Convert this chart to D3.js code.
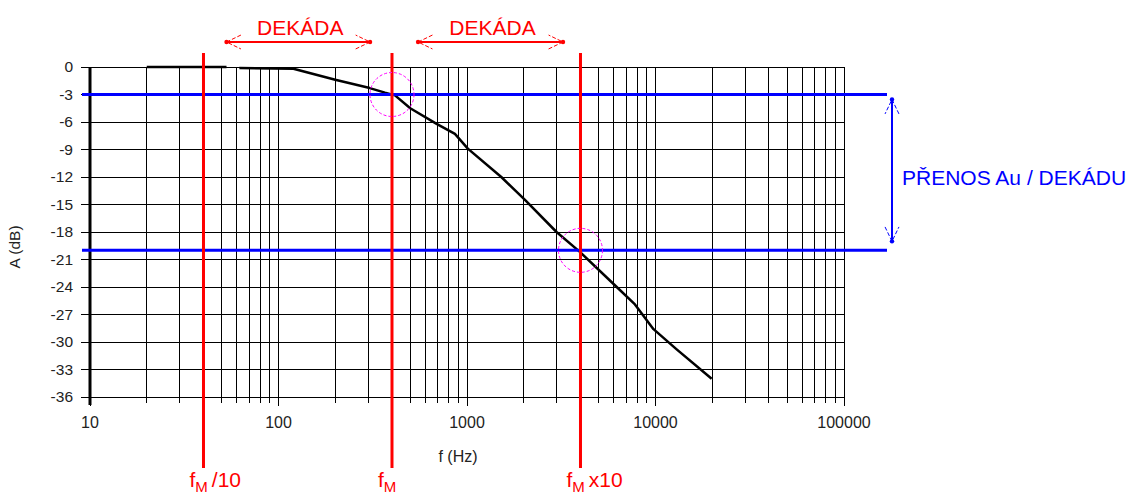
<!DOCTYPE html>
<html>
<head>
<meta charset="utf-8">
<script src="https://cdn.jsdelivr.net/npm/d3@7"></script>
<style>
  body { margin: 0; background: #fff; }
  svg { display: block; font-family: "Liberation Sans", Arial, sans-serif; }
</style>
</head>
<body>
<svg id="chart" width="1130" height="497"></svg>
<script>
// measured response (frequency in Hz, gain in dB); null = gap in the trace
var freq = [20, 53, 57, 62, 120, 200, 305, 367, 415, 500, 690, 863, 1010, 1520, 2030, 2985, 3984, 6227, 7780, 9760, 12950, 19860]
var gain = [0, 0, null, -0.1, -0.2, -1.4, -2.3, -2.8, -3.1, -4.5, -6.2, -7.3, -8.9, -12, -14.5, -18, -20.2, -24, -25.9, -28.6, -30.8, -34]

var yTicks = [0, -3, -6, -9, -12, -15, -18, -21, -24, -27, -30, -33, -36]
var xDecades = [10, 100, 1000, 10000, 100000]
var xLabels = ["10", "100", "1000", "10000", "100000"]

// annotations
var markFreq = [40, 400, 4000]
var markLabel = ["/10", "", "x10"]
var levels = [-3, -20]
var circleFreq = [400, 4000]
var circleDb = [-3, -20]
var decadeFrom = [53, 550]
var decadeTo = [306, 3230]

var svg = d3.select("#chart")
var x = d3.scaleLog().domain([10, 100000]).range([90, 844])
var y = d3.scaleLinear().domain([-36, 0]).range([397, 67])

var grid = svg.append("g").attr("shape-rendering", "crispEdges")

// vertical grid lines + ticks below axis
var vlines = []
xDecades.forEach(function(d, i) {
  if (i == xDecades.length - 1) { vlines.push({f: d, major: true}); return }
  for (var k = 1; k < 10; k++) vlines.push({f: d * k, major: k == 1})
})
grid.selectAll("line.v").data(vlines).enter().append("line").attr("class", "v")
  .attr("x1", function(d) { return x(d.f) }).attr("x2", function(d) { return x(d.f) })
  .attr("y1", y(0)).attr("y2", function(d) { return d.major ? y(-36) + 9 : y(-36) + 6 })
  .attr("stroke", "#000").attr("stroke-width", 1)

// horizontal grid lines + ticks on the left
grid.selectAll("line.h").data(yTicks).enter().append("line").attr("class", "h")
  .attr("x1", x(10) - 9).attr("x2", x(100000))
  .attr("y1", function(d) { return y(d) }).attr("y2", function(d) { return y(d) })
  .attr("stroke", "#000").attr("stroke-width", 1)

// thick left axis
svg.append("line").attr("x1", x(10)).attr("x2", x(10)).attr("y1", y(0)).attr("y2", y(-36) + 8)
  .attr("stroke", "#000").attr("stroke-width", 3)

svg.selectAll("text.yt").data(yTicks).enter().append("text").attr("class", "yt")
  .attr("x", 73).attr("y", function(d) { return y(d) + 5 })
  .attr("text-anchor", "end").attr("font-size", 15.5).attr("fill", "#222")
  .text(function(d) { return d })

svg.selectAll("text.xt").data(xDecades).enter().append("text").attr("class", "xt")
  .attr("x", function(d) { return x(d) }).attr("y", 428)
  .attr("text-anchor", "middle").attr("font-size", 16).attr("fill", "#222")
  .text(function(d, i) { return xLabels[i] })

svg.append("text").attr("x", 458).attr("y", 462).attr("text-anchor", "middle")
  .attr("font-size", 16).attr("fill", "#222").text("f (Hz)")
svg.append("text").attr("transform", "translate(20,247) rotate(-90)").attr("text-anchor", "middle")
  .attr("font-size", 15.5).attr("fill", "#222").text("A (dB)")

// response curve
var pts = freq.map(function(f, i) { return [f, gain[i]] })
var line = d3.line().defined(function(d) { return d[1] !== null })
  .x(function(d) { return x(d[0]) }).y(function(d) { return y(d[1]) })
svg.append("path").datum(pts).attr("d", line).attr("fill", "none")
  .attr("stroke", "#000").attr("stroke-width", 2.5).attr("stroke-linejoin", "round")

// blue levels
svg.selectAll("line.lev").data(levels).enter().append("line").attr("class", "lev")
  .attr("x1", x(10) - 8).attr("x2", x(100000) + 43)
  .attr("y1", function(d) { return y(d) }).attr("y2", function(d) { return y(d) })
  .attr("stroke", "#0000ff").attr("stroke-width", 3)

// red marker lines
svg.selectAll("line.mk").data(markFreq).enter().append("line").attr("class", "mk")
  .attr("x1", function(d) { return x(d) }).attr("x2", function(d) { return x(d) })
  .attr("y1", y(0) - 14).attr("y2", 468)
  .attr("stroke", "#ff0000").attr("stroke-width", 3)

// magenta circles
svg.selectAll("circle.c").data(circleFreq).enter().append("circle").attr("class", "c")
  .attr("cx", function(d) { return x(d) }).attr("cy", function(d, i) { return y(circleDb[i]) })
  .attr("r", 22).attr("fill", "none").attr("stroke", "#ff00ff").attr("stroke-width", 1)
  .attr("stroke-dasharray", "3,2")

// fM labels
var lab = svg.selectAll("text.fm").data(markFreq).enter().append("text").attr("class", "fm")
  .attr("x", function(d) { return x(d) - 14 }).attr("y", 487)
  .attr("font-size", 21).attr("fill", "#ff0000")
lab.append("tspan").text("f")
lab.append("tspan").attr("font-size", 15).attr("dy", 5).text("M")
lab.append("tspan").attr("dy", -5).attr("dx", 4).text(function(d, i) { return markLabel[i] })

// arrow helper
function arrow(g, x1, y1, x2, y2, color) {
  g.append("line").attr("x1", x1).attr("y1", y1).attr("x2", x2).attr("y2", y2)
    .attr("stroke", color).attr("stroke-width", 2)
  var ang = Math.atan2(y2 - y1, x2 - x1)
  ;[[x1, y1, ang + Math.PI], [x2, y2, ang]].forEach(function(e) {
    var a1 = e[2] + Math.PI - 0.45, a2 = e[2] + Math.PI + 0.45
    g.append("path")
      .attr("d", "M" + (e[0] + 16 * Math.cos(a1)) + "," + (e[1] + 16 * Math.sin(a1)) +
        "L" + e[0] + "," + e[1] + "L" + (e[0] + 16 * Math.cos(a2)) + "," + (e[1] + 16 * Math.sin(a2)))
      .attr("fill", "none").attr("stroke", color).attr("stroke-width", 1).attr("stroke-dasharray", "4,2")
    g.append("circle").attr("cx", e[0]).attr("cy", e[1]).attr("r", 2.2).attr("fill", color)
  })
}

var ann = svg.append("g")
decadeFrom.forEach(function(f, i) {
  var a = x(f), b = x(decadeTo[i])
  arrow(ann, a, 42, b, 42, "#ff0000")
  ann.append("text").attr("x", (a + b) / 2 + 2).attr("y", 35).attr("text-anchor", "middle")
    .attr("font-size", 21).attr("fill", "#ff0000").text("DEKÁDA")
})

var ax = x(100000) + 48
arrow(ann, ax, y(-3) + 5, ax, y(-20) - 9, "#0000ff")
ann.append("text").attr("x", ax + 10).attr("y", 185).attr("font-size", 21)
  .attr("fill", "#0000ff").text("PŘENOS Au / DEKÁDU")
</script>
</body>
</html>
